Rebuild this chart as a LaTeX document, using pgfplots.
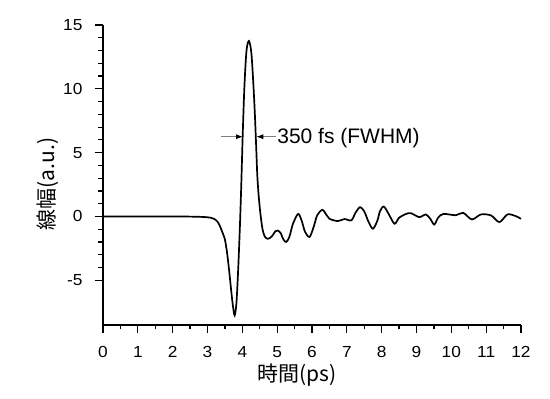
\documentclass[border=0pt]{standalone}
\usepackage{pgfplots}
\pgfplotsset{compat=1.18}
\usepackage{fontspec}
\setmainfont{Liberation Sans}
\newfontfamily\cjk{Noto Sans CJK JP}
\newfontfamily\tickfont[FakeStretch=1.08]{Liberation Sans}
\usetikzlibrary{arrows.meta}
\begin{document}
\begin{tikzpicture}
\useasboundingbox (-103pt,-74pt) rectangle (447pt,325pt);
\begin{axis}[
  at={(0,0)}, anchor=south west,
  scale only axis, width=418pt, height=300pt,
  xmin=0, xmax=12, ymin=-8.5, ymax=15,
  axis x line*=bottom, axis y line*=left,
  axis line style={line width=1.3pt},
  xtick={0,1,...,12}, ytick={-5,0,5,10,15},
  minor x tick num=1, minor y tick num=4,
  tick align=outside,
  major tick length=8pt, minor tick length=4.5pt,
  every tick/.style={line width=1.2pt, black},
  every tick label/.append style={font=\tickfont\fontsize{16}{19}\selectfont},
  /pgf/number format/assume math mode=true,
  xticklabel style={yshift=-9.5pt},
  yticklabel style={xshift=-9pt},
  xlabel={\cjk 時間(ps)},
  ylabel={\cjk 線幅(a.u.)},
  xlabel style={font=\fontsize{21}{24}\selectfont, at={(axis description cs:0.464,-0.167)}, anchor=center},
  ylabel style={font=\fontsize{21}{24}\selectfont, at={(axis description cs:-0.132,0.47)}, anchor=center, rotate=0},
  clip=false,
]
\addplot[black, line width=1.7pt, smooth] coordinates {
(0,0) (1,0) (2,0) (2.5,-0.01) (2.9,-0.04) (3.1,-0.1) (3.2,-0.2) (3.3,-0.45) (3.38,-0.9)
(3.45,-1.4) (3.5,-1.8) (3.56,-2.8) (3.62,-4.2) (3.68,-5.8) (3.73,-7.0) (3.78,-7.75)
(3.83,-6.8) (3.88,-4.2) (3.93,-0.8) (3.97,2.5) (4.01,6.3) (4.06,10.2) (4.12,13.0)
(4.19,13.75) (4.26,12.8) (4.32,10.2) (4.36,8.0) (4.40,5.3) (4.43,3.2) (4.47,1.6)
(4.52,0.2) (4.58,-1.0) (4.65,-1.6) (4.74,-1.75) (4.85,-1.55) (4.95,-1.15) (5.02,-1.1) (5.1,-1.3)
(5.18,-1.8) (5.26,-2.0) (5.35,-1.6) (5.45,-0.6) (5.6,0.2) (5.7,-0.3) (5.8,-1.2)
(5.93,-1.6) (6.05,-0.8) (6.15,0.1) (6.3,0.52) (6.42,0.1) (6.5,-0.18) (6.74,-0.36)
(6.93,-0.2) (7.13,-0.3) (7.25,0.3) (7.38,0.73) (7.5,0.4) (7.62,-0.4) (7.75,-0.96)
(7.88,-0.3) (7.95,0.4) (8.06,0.78) (8.2,0.2) (8.37,-0.57) (8.5,-0.1) (8.7,0.2)
(8.84,0.26) (9.08,-0.05) (9.27,0.16) (9.4,-0.2) (9.51,-0.63) (9.62,-0.1) (9.77,0.2)
(10.13,0.1) (10.34,0.29) (10.59,-0.23) (10.85,0.16) (11.14,0.08) (11.38,-0.44)
(11.61,0.16) (11.83,0.05) (12.0,-0.18)
};
\draw[gray, line width=0.8pt, -{Latex[length=7pt,width=5pt,black]}] (axis cs:3.40,6.25) -- (axis cs:4.02,6.25);
\draw[gray, line width=0.8pt, -{Latex[length=7pt,width=5pt,black]}] (axis cs:4.97,6.25) -- (axis cs:4.40,6.25);
\node[anchor=west, inner sep=0pt, font=\fontsize{21}{24}\selectfont] at (axis cs:5.0,6.15) {350 fs (FWHM)};
\end{axis}
\end{tikzpicture}
\end{document}
